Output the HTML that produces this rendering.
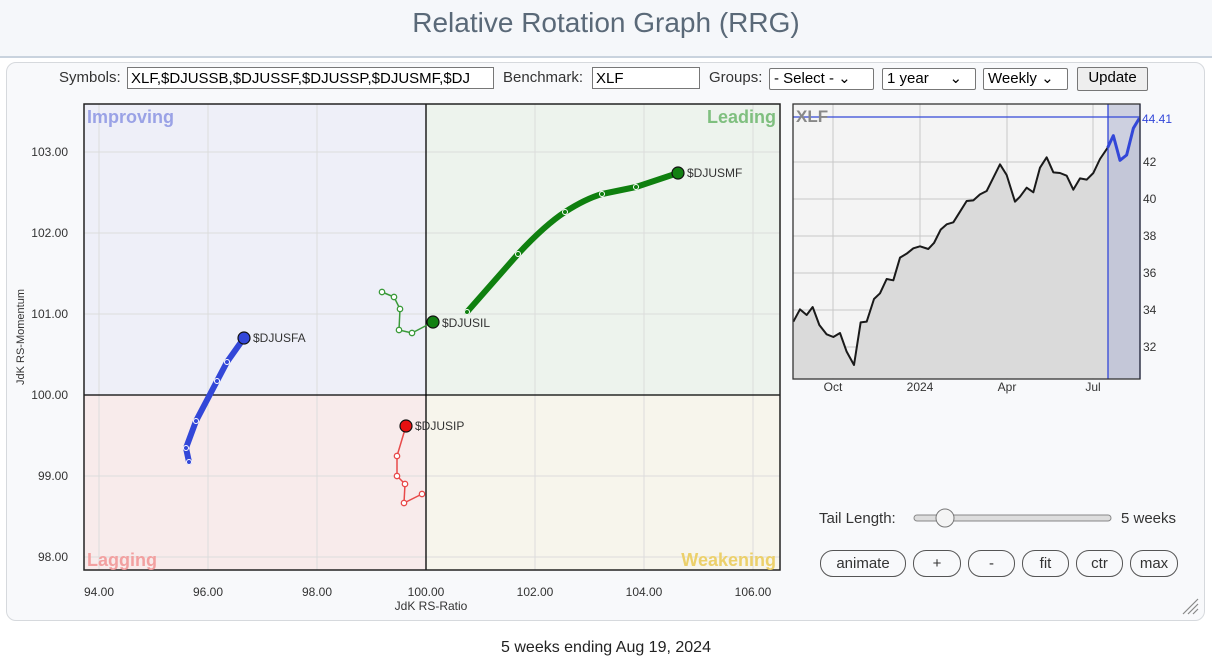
<!DOCTYPE html>
<html><head><meta charset="utf-8"><style>
body{margin:0;width:1212px;height:665px;background:#fff;font-family:"Liberation Sans",Arial,sans-serif;position:relative;overflow:hidden}
.title{position:absolute;top:0;left:0;width:1212px;height:56px;background:#f5f7fa;border-bottom:2px solid #c9d3de;text-align:center;font-size:28px;line-height:46px;color:#5a6978}
.panel{position:absolute;left:6px;top:62px;width:1197px;height:557px;border:1px solid #d6d9dd;border-radius:10px;background:#f8f9fb}
.lbl{position:absolute;font-size:15px;color:#333}
.inp{position:absolute;border:1px solid #777;background:#fff;font-size:15px;height:22px;line-height:22px;padding-left:3px;box-sizing:border-box;color:#000;overflow:hidden;white-space:nowrap}
.sel{position:absolute;border:1px solid #777;background:#fff;font-size:15px;height:22px;line-height:20px;padding-left:4px;box-sizing:border-box;border-radius:2px}
.btn{position:absolute;border:1px solid #555;border-radius:13px;height:27px;line-height:25px;text-align:center;font-size:15px;box-sizing:border-box;background:#f8f9fb;color:#333;top:550px}
</style></head><body>
<div class="title">Relative Rotation Graph (RRG)</div>
<div class="panel"></div>
<div class="lbl" style="left:59px;top:69px">Symbols:</div>
<div class="inp" style="left:127px;top:67px;width:367px">XLF,$DJUSSB,$DJUSSF,$DJUSSP,$DJUSMF,$DJ</div>
<div class="lbl" style="left:503px;top:69px">Benchmark:</div>
<div class="inp" style="left:592px;top:67px;width:108px">XLF</div>
<div class="lbl" style="left:709px;top:69px">Groups:</div>
<div class="sel" style="left:769px;top:68px;width:105px">- Select - ⌄</div>
<div class="sel" style="left:882px;top:68px;width:94px">1 year &nbsp;&nbsp;&nbsp;&nbsp;⌄</div>
<div class="sel" style="left:983px;top:68px;width:85px">Weekly ⌄</div>
<div class="sel" style="left:1077px;top:67px;width:71px;background:#eee;text-align:center;padding:0;height:24px">Update</div>
<svg width="1212" height="665" style="position:absolute;left:0;top:0" font-family="Liberation Sans, Arial, sans-serif">
<rect x="84" y="104" width="342" height="291" fill="#eeeff8"/>
<rect x="426" y="104" width="354" height="291" fill="#edf3ed"/>
<rect x="84" y="395" width="342" height="175" fill="#f8ebeb"/>
<rect x="426" y="395" width="354" height="175" fill="#f7f5ec"/>
<g stroke="#dcdcdc" stroke-width="1">
<line x1="99" y1="104" x2="99" y2="570"/><line x1="208" y1="104" x2="208" y2="570"/><line x1="317" y1="104" x2="317" y2="570"/><line x1="535" y1="104" x2="535" y2="570"/><line x1="644" y1="104" x2="644" y2="570"/><line x1="753" y1="104" x2="753" y2="570"/>
<line x1="84" y1="152" x2="780" y2="152"/><line x1="84" y1="233" x2="780" y2="233"/><line x1="84" y1="314" x2="780" y2="314"/><line x1="84" y1="476" x2="780" y2="476"/><line x1="84" y1="557" x2="780" y2="557"/>
</g>
<line x1="426" y1="104" x2="426" y2="570" stroke="#000" stroke-width="1.3"/>
<line x1="84" y1="395" x2="780" y2="395" stroke="#000" stroke-width="1.3"/>
<rect x="84" y="104" width="696" height="466" fill="none" stroke="#222" stroke-width="1.5"/>
<g font-size="18" font-weight="bold">
<text x="87" y="123" fill="#9aa2e6">Improving</text>
<text x="776" y="123" fill="#7fbf7f" text-anchor="end">Leading</text>
<text x="87" y="566" fill="#f2a0a0">Lagging</text>
<text x="776" y="566" fill="#ecd06a" text-anchor="end">Weakening</text>
</g>
<g font-size="12" fill="#333" text-anchor="end">
<text x="68" y="156">103.00</text><text x="68" y="237">102.00</text><text x="68" y="318">101.00</text><text x="68" y="399">100.00</text><text x="68" y="480">99.00</text><text x="68" y="561">98.00</text>
</g>
<g font-size="12" fill="#333" text-anchor="middle">
<text x="99" y="596">94.00</text><text x="208" y="596">96.00</text><text x="317" y="596">98.00</text><text x="426" y="596">100.00</text><text x="535" y="596">102.00</text><text x="644" y="596">104.00</text><text x="753" y="596">106.00</text>
<text x="431" y="610">JdK RS-Ratio</text>
</g>
<text transform="translate(24,337) rotate(-90)" font-size="11" fill="#333" text-anchor="middle">JdK RS-Momentum</text>
<!-- blue -->
<polyline points="189,462 186,448 196,421 217,381 227,362 244,338" fill="none" stroke="#3347d8" stroke-width="6" stroke-linejoin="round" stroke-linecap="round"/>
<g fill="#3347d8" stroke="#fff" stroke-width="1"><circle cx="189" cy="462" r="2.5"/><circle cx="186" cy="448" r="2.5"/><circle cx="196" cy="421" r="2.5"/><circle cx="217" cy="381" r="2.5"/><circle cx="227" cy="362" r="2.5"/></g>
<circle cx="244" cy="338" r="6" fill="#3347d8" stroke="#111" stroke-width="1.2"/>
<text x="253" y="342" font-size="12" fill="#333">$DJUSFA</text>
<!-- green small -->
<polyline points="382,292 394,297 400,309 399,330 412,333 433,322" fill="none" stroke="#3a9a3a" stroke-width="1.5"/>
<g fill="#fff" stroke="#3a9a3a" stroke-width="1.3"><circle cx="382" cy="292" r="2.7"/><circle cx="394" cy="297" r="2.7"/><circle cx="400" cy="309" r="2.7"/><circle cx="399" cy="330" r="2.7"/><circle cx="412" cy="333" r="2.7"/></g>
<circle cx="433" cy="322" r="6" fill="#128012" stroke="#111" stroke-width="1.2"/>
<text x="442" y="327" font-size="12" fill="#333">$DJUSIL</text>
<!-- red -->
<polyline points="422,494 404,503 405,484 397,476 397,456 406,426" fill="none" stroke="#e84a4a" stroke-width="1.5"/>
<g fill="#fff" stroke="#e84a4a" stroke-width="1.3"><circle cx="422" cy="494" r="2.7"/><circle cx="404" cy="503" r="2.7"/><circle cx="405" cy="484" r="2.7"/><circle cx="397" cy="476" r="2.7"/><circle cx="397" cy="456" r="2.7"/></g>
<circle cx="406" cy="426" r="6" fill="#e81010" stroke="#111" stroke-width="1.2"/>
<text x="415" y="430" font-size="12" fill="#333">$DJUSIP</text>
<!-- MF -->
<path d="M467,312 L518,254 Q545,225 565,212 Q585,199 602,194 L636,187 L678,173" fill="none" stroke="#0f800f" stroke-width="6" stroke-linecap="round" stroke-linejoin="round"/>
<g fill="#0f800f" stroke="#fff" stroke-width="1"><circle cx="467" cy="312" r="2.5"/><circle cx="518" cy="254" r="2.5"/><circle cx="565" cy="212" r="2.5"/><circle cx="602" cy="194" r="2.5"/><circle cx="636" cy="187" r="2.5"/></g>
<circle cx="678" cy="173" r="6" fill="#128012" stroke="#111" stroke-width="1.2"/>
<text x="687" y="177" font-size="12" fill="#333">$DJUSMF</text>
<!-- right chart -->
<rect x="793" y="104" width="347" height="275" fill="#f4f4f4"/>
<rect x="1108" y="104" width="32" height="275" fill="#cdd0e0"/>
<g stroke="#c8c8c8" stroke-width="1">
<line x1="833" y1="104" x2="833" y2="379"/><line x1="920" y1="104" x2="920" y2="379"/><line x1="1007" y1="104" x2="1007" y2="379"/><line x1="1093" y1="104" x2="1093" y2="379"/>
<line x1="793" y1="162" x2="1140" y2="162"/><line x1="793" y1="199" x2="1140" y2="199"/><line x1="793" y1="236" x2="1140" y2="236"/><line x1="793" y1="273" x2="1140" y2="273"/><line x1="793" y1="310" x2="1140" y2="310"/><line x1="793" y1="347" x2="1140" y2="347"/>
</g>
<g transform="translate(780,95) scale(0.33333)">
<path d="M40,680 L60,643 80,660 98,636 118,690 140,718 160,726 180,714 200,770 222,810 242,682 260,680 282,612 300,595 320,552 340,556 360,488 380,476 400,460 420,454 445,462 462,444 482,404 500,388 520,382 540,350 560,318 580,316 600,298 620,288 640,248 660,208 680,240 705,320 720,305 740,278 760,292 780,218 800,187 820,232 840,234 860,242 880,284 900,250 920,254 940,234 960,192 983,158 L983,850 L40,850 Z" fill="#dadada"/>
<path d="M983,158 L1000,122 1020,196 1040,180 1060,100 1078,70 L1078,850 L983,850 Z" fill="#c4c7d8"/>
<polyline points="40,680 60,643 80,660 98,636 118,690 140,718 160,726 180,714 200,770 222,810 242,682 260,680 282,612 300,595 320,552 340,556 360,488 380,476 400,460 420,454 445,462 462,444 482,404 500,388 520,382 540,350 560,318 580,316 600,298 620,288 640,248 660,208 680,240 705,320 720,305 740,278 760,292 780,218 800,187 820,232 840,234 860,242 880,284 900,250 920,254 940,234 960,192 983,158" fill="none" stroke="#1a1a1a" stroke-width="6" stroke-linejoin="round"/>
<polyline points="983,158 1000,122 1020,196 1040,180 1060,100 1078,70" fill="none" stroke="#3347d8" stroke-width="9" stroke-linejoin="round"/>
</g>
<line x1="793" y1="117" x2="1140" y2="117" stroke="#3347d8" stroke-width="1.2"/>
<line x1="1108" y1="104" x2="1108" y2="379" stroke="#3347d8" stroke-width="1.3"/>
<line x1="1140" y1="104" x2="1140" y2="379" stroke="#3347d8" stroke-width="1.3"/>
<rect x="793" y="104" width="347" height="275" fill="none" stroke="#333" stroke-width="1.3"/>
<text x="796" y="122" font-size="17" font-weight="bold" fill="#888">XLF</text>
<g font-size="12" fill="#333">
<text x="1142" y="123" fill="#3347d8">44.41</text>
<text x="1143" y="166">42</text><text x="1143" y="203">40</text><text x="1143" y="240">38</text><text x="1143" y="277">36</text><text x="1143" y="314">34</text><text x="1143" y="351">32</text>
</g>
<g font-size="12" fill="#333" text-anchor="middle">
<text x="833" y="391">Oct</text><text x="920" y="391">2024</text><text x="1007" y="391">Apr</text><text x="1093" y="391">Jul</text>
</g>
<!-- slider -->
<rect x="914" y="515" width="197" height="6" rx="3" fill="#ddd" stroke="#888"/>
<circle cx="945" cy="518" r="9" fill="#f4f4f4" stroke="#777"/>
<g stroke="#888" stroke-width="1.2"><line x1="1183" y1="614" x2="1198" y2="599"/><line x1="1188" y1="614" x2="1198" y2="604"/><line x1="1193" y1="614" x2="1198" y2="609"/></g>
</svg>
<div class="lbl" style="left:819px;top:510px;font-size:15px">Tail Length:</div>
<div class="lbl" style="left:1121px;top:510px;font-size:15px">5 weeks</div>
<div class="btn" style="left:820px;width:86px">animate</div>
<div class="btn" style="left:913px;width:48px">+</div>
<div class="btn" style="left:968px;width:47px">-</div>
<div class="btn" style="left:1022px;width:47px">fit</div>
<div class="btn" style="left:1076px;width:47px">ctr</div>
<div class="btn" style="left:1130px;width:48px">max</div>
<div class="lbl" style="left:0;width:1212px;text-align:center;top:639px;font-size:16px;color:#222">5 weeks ending Aug 19, 2024</div>
</body></html>
